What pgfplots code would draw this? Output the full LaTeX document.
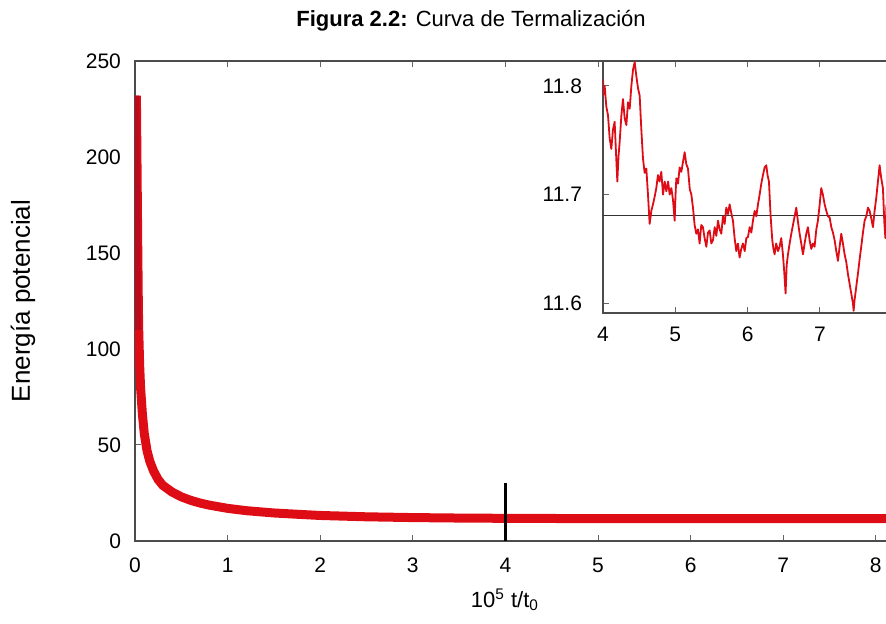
\documentclass[border=0pt]{standalone}
\usepackage{fontspec}
\setmainfont{Liberation Sans}
\usepackage{pgfplots}
\pgfplotsset{compat=1.18}
\definecolor{curve}{RGB}{222,12,20}
\definecolor{curvedark}{RGB}{185,10,30}
\begin{document}
\begin{tikzpicture}
\useasboundingbox (-67.5pt,-41.5pt) rectangle (375.5pt,270.5pt);
\clip (-67.5pt,-41.5pt) rectangle (375.5pt,270.5pt);
\node[font=\fontsize{11}{13}\selectfont] at (168pt,260pt) {\textbf{Figura 2.2:} Curva de Termalización};
\begin{axis}[
  at={(0pt,0pt)}, anchor=south west,
  scale only axis, width=416.7pt, height=240pt,
  xmin=0, xmax=9, ymin=0, ymax=250,
  xtick={0,1,...,9}, ytick={0,50,...,250},
  tick align=inside, major tick length=3pt,
  axis line style={black!70, line width=0.7pt},
  tick style={black!60, line width=0.5pt},
  /pgf/number format/assume math mode=true,
  ticklabel style={font=\fontsize{10.5}{12}\selectfont},
  xticklabel style={yshift=-5pt},
  yticklabel style={xshift=-3.5pt},
  xlabel={10\textsuperscript{5} t/t\textsubscript{0}},
  ylabel={Energía potencial},
  xlabel style={font=\fontsize{11}{13}\selectfont, at={(axis description cs:0.4439,-0.123)}, anchor=center},
  ylabel style={font=\fontsize{13}{15}\selectfont, at={(axis description cs:-0.1344,0.5)}, anchor=center},
]
\addplot[curve, line width=4.5pt, line join=round] coordinates {
(0.015,232) (0.02,205) (0.025,178) (0.03,152) (0.035,128) (0.04,110) (0.05,92) (0.06,80) (0.08,66) (0.1,56) (0.13,47) (0.16,41.5) (0.2,36.5) (0.25,32) (0.3,29) (0.4,25.5) (0.5,23) (0.6,21.2) (0.7,19.8) (0.8,18.7) (1.0,17) (1.2,15.8) (1.5,14.6) (1.8,13.8) (2.0,13.3) (2.5,12.6) (3.0,12.2) (3.5,11.95) (4.0,11.81) (4.5,11.72) (5.0,11.70) (5.5,11.66) (6.0,11.66) (6.5,11.62) (7.0,11.70) (7.5,11.60) (8.0,11.66) (8.5,11.68) (9.0,11.67)
};
\addplot[curvedark, line width=3pt] coordinates {
(0.012,232) (0.016,205) (0.02,178) (0.025,152) (0.03,128) (0.035,110)
};
\addplot[black, line width=1.6pt] coordinates {(4,0) (4,30.3)};
\end{axis}
\begin{axis}[
  at={(234pt,114pt)}, anchor=south west,
  scale only axis, width=162.7pt, height=126pt,
  xmin=4, xmax=8.5, ymin=11.591, ymax=11.823,
  xtick={4,5,6,7}, ytick={11.6,11.7,11.8},
  extra x ticks={8}, extra x tick labels={},
  axis background/.style={fill=white},
  tick align=inside, major tick length=3pt,
  axis line style={black!70, line width=0.7pt},
  tick style={black!60, line width=0.5pt},
  /pgf/number format/assume math mode=true,
  /pgf/number format/.cd, fixed, precision=1, fixed zerofill,
  /pgfplots/.cd,
  xticklabel style={/pgf/number format/precision=0, /pgf/number format/fixed zerofill=false, yshift=-3.5pt},
  ticklabel style={font=\fontsize{10.5}{12}\selectfont},
  yticklabel style={xshift=-7pt},
]
\addplot[black!80, line width=0.5pt] coordinates {(4,11.681) (8.5,11.681)};
\addplot[curve, line width=0.9pt, line join=round] coordinates {
(4.000,11.806) (4.012,11.792) (4.023,11.800) (4.046,11.781) (4.069,11.773) (4.092,11.752) (4.115,11.742) (4.138,11.760) (4.161,11.767) (4.180,11.738) (4.198,11.712) (4.214,11.735) (4.230,11.748) (4.253,11.772) (4.276,11.788) (4.300,11.770) (4.323,11.764) (4.346,11.785) (4.369,11.779) (4.392,11.800) (4.415,11.815) (4.438,11.822) (4.461,11.809) (4.484,11.798) (4.507,11.791) (4.530,11.760) (4.553,11.733) (4.576,11.720) (4.599,11.724) (4.622,11.700) (4.645,11.673) (4.668,11.685) (4.691,11.691) (4.714,11.698) (4.737,11.706) (4.760,11.718) (4.783,11.712) (4.806,11.721) (4.830,11.700) (4.853,11.712) (4.876,11.703) (4.900,11.712) (4.922,11.700) (4.945,11.706) (4.968,11.695) (4.991,11.676) (5.003,11.700) (5.014,11.715) (5.037,11.710) (5.060,11.725) (5.083,11.721) (5.106,11.730) (5.129,11.739) (5.152,11.728) (5.175,11.724) (5.200,11.705) (5.222,11.700) (5.244,11.688) (5.267,11.672) (5.290,11.664) (5.313,11.668) (5.336,11.655) (5.359,11.672) (5.382,11.670) (5.405,11.660) (5.429,11.652) (5.452,11.665) (5.475,11.667) (5.498,11.655) (5.521,11.658) (5.545,11.670) (5.567,11.662) (5.590,11.676) (5.613,11.668) (5.636,11.664) (5.659,11.680) (5.682,11.673) (5.705,11.688) (5.728,11.682) (5.751,11.691) (5.774,11.683) (5.797,11.676) (5.820,11.660) (5.843,11.648) (5.866,11.655) (5.889,11.642) (5.912,11.650) (5.935,11.655) (5.960,11.648) (5.982,11.660) (6.005,11.661) (6.028,11.670) (6.051,11.665) (6.074,11.676) (6.097,11.685) (6.120,11.680) (6.143,11.691) (6.166,11.700) (6.189,11.710) (6.212,11.718) (6.235,11.725) (6.258,11.727) (6.275,11.718) (6.295,11.712) (6.318,11.680) (6.341,11.658) (6.357,11.650) (6.373,11.645) (6.395,11.655) (6.420,11.648) (6.442,11.652) (6.465,11.660) (6.488,11.645) (6.505,11.630) (6.525,11.609) (6.540,11.635) (6.558,11.645) (6.581,11.655) (6.604,11.664) (6.627,11.672) (6.650,11.680) (6.673,11.688) (6.696,11.675) (6.719,11.664) (6.742,11.655) (6.765,11.645) (6.788,11.655) (6.811,11.664) (6.834,11.670) (6.857,11.658) (6.880,11.650) (6.903,11.655) (6.926,11.652) (6.950,11.668) (6.972,11.676) (6.995,11.690) (7.018,11.706) (7.041,11.700) (7.065,11.691) (7.088,11.685) (7.111,11.680) (7.134,11.679) (7.157,11.670) (7.180,11.665) (7.203,11.658) (7.226,11.648) (7.249,11.639) (7.272,11.652) (7.295,11.664) (7.318,11.655) (7.341,11.645) (7.364,11.638) (7.387,11.627) (7.410,11.618) (7.433,11.609) (7.456,11.600) (7.466,11.593) (7.479,11.603) (7.502,11.615) (7.525,11.627) (7.548,11.640) (7.571,11.652) (7.595,11.665) (7.618,11.676) (7.641,11.680) (7.664,11.688) (7.687,11.685) (7.710,11.678) (7.733,11.670) (7.756,11.685) (7.779,11.697) (7.802,11.712) (7.825,11.727) (7.848,11.715) (7.871,11.706) (7.890,11.675) (7.905,11.660) (7.920,11.690) (7.960,11.675) (8.000,11.660) (8.050,11.672) (8.100,11.680) (8.150,11.665) (8.200,11.650) (8.300,11.670)
};
\end{axis}
\end{tikzpicture}
\end{document}
